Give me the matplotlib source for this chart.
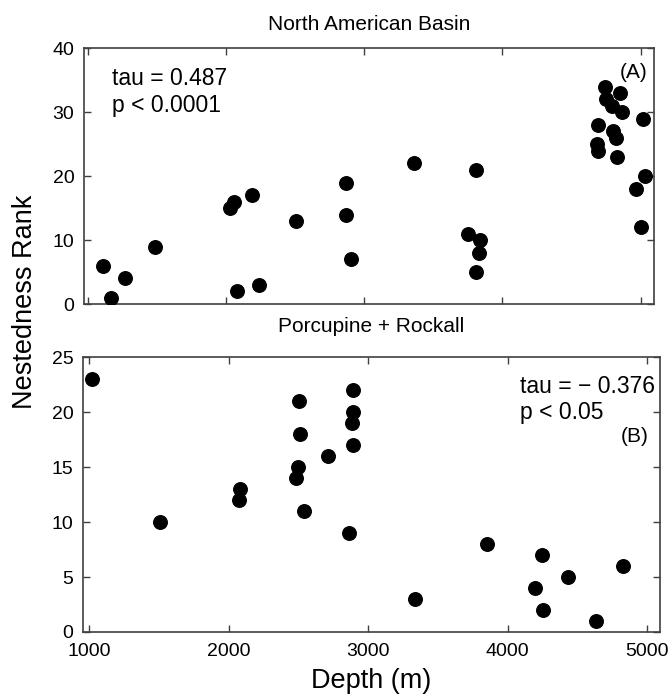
import matplotlib
matplotlib.use("Agg")
import matplotlib.pyplot as plt

plt.rcParams['font.family'] = ['Liberation Sans', 'DejaVu Sans']

# North American Basin: depth (m) and nestedness rank
nab_depth = [1111, 1164, 1268, 1485, 2027, 2056, 2185, 2076, 2237, 2505,
             2867, 2867, 2901, 3361, 3808, 3752, 3836, 3827, 3808,
             4741, 4850, 4746, 4794, 4866, 5014, 4692, 4801, 4825,
             4685, 4692, 4830, 5035, 4970, 5006]
nab_rank = [6, 1, 4, 9, 15, 16, 17, 2, 3, 13,
            19, 14, 7, 22, 21, 11, 10, 8, 5,
            34, 33, 32, 31, 30, 29, 28, 27, 26,
            25, 24, 23, 20, 18, 12]

# Porcupine + Rockall
pr_depth = [1019, 1504, 2082, 2077, 2505, 2508, 2496, 2484, 2541, 2715,
            2895, 2895, 2883, 2895, 2866, 3337, 3855, 4245, 4197, 4436,
            4257, 4826, 4632]
pr_rank = [23, 10, 13, 12, 21, 18, 15, 14, 11, 16,
           22, 20, 19, 17, 9, 3, 8, 7, 4, 5,
           2, 6, 1]

fig = plt.figure(figsize=(6.72, 6.99), dpi=100)
ax1 = fig.add_axes([0.125, 0.565, 0.848, 0.366])
ax2 = fig.add_axes([0.1235, 0.0959, 0.8586, 0.3927])

for ax in (ax1, ax2):
    for sp in ax.spines.values():
        sp.set_color('#404040')
        sp.set_linewidth(1.2)
    ax.tick_params(direction='in', top=True, right=True, length=5,
                   width=1, color='#404040', labelsize=14)
    ax.tick_params(axis='y', pad=7)
    ax.tick_params(axis='x', pad=8)
    ax.set_xticks([1000, 2000, 3000, 4000, 5000])

ax1.scatter(nab_depth, nab_rank, s=95, color='black', zorder=3)
ax1.set_xlim(971, 5096)
ax1.set_ylim(0, 40)
ax1.set_yticks([0, 10, 20, 30, 40])
ax1.tick_params(labelbottom=False)
ax1.set_title('North American Basin', fontsize=15, pad=13)
ax1.text(0.049, 0.925, 'tau = 0.487\np < 0.0001', transform=ax1.transAxes,
         fontsize=16.5, ha='left', va='top', linespacing=1.2)
ax1.text(0.988, 0.905, '(A)', transform=ax1.transAxes,
         fontsize=15, ha='right', va='center')

ax2.scatter(pr_depth, pr_rank, s=95, color='black', zorder=3)
ax2.set_xlim(955, 5093)
ax2.set_ylim(0, 25)
ax2.set_yticks([0, 5, 10, 15, 20, 25])
ax2.set_title('Porcupine + Rockall', fontsize=15, pad=18)
ax2.text(0.992, 0.935, 'tau = \u2212 0.376\np < 0.05', transform=ax2.transAxes,
         fontsize=16.5, ha='right', va='top', linespacing=1.15, multialignment='left')
ax2.text(0.98, 0.712, '(B)', transform=ax2.transAxes,
         fontsize=15, ha='right', va='center')
ax2.set_xlabel('Depth (m)', fontsize=19.5, labelpad=6)

fig.text(0.037, 0.568, 'Nestedness Rank', rotation=90, fontsize=19.5,
         ha='center', va='center')

fig.savefig('out.png', dpi=100)
plt.close(fig)
